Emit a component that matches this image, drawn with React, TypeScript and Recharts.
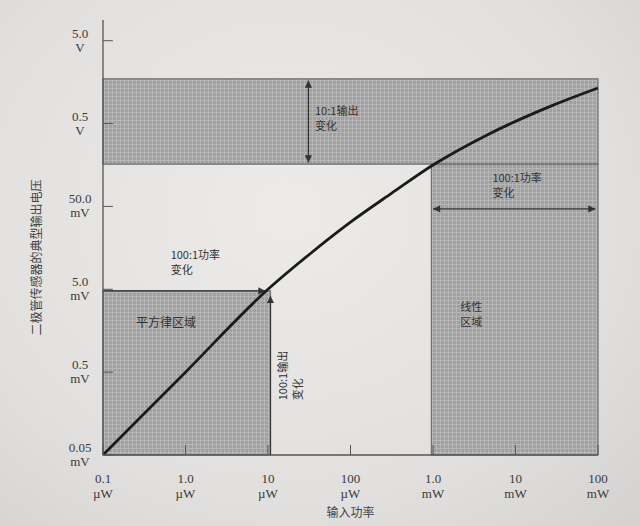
import { LineChart, Line, XAxis, YAxis, ReferenceArea, ReferenceLine, ReferenceDot, Label } from "recharts";

// log10 of input power (µW) and log10 of output voltage (mV)
const curveX = [-1, 0, 1, 1.5, 2, 2.5, 3, 3.65, 4.45, 5];
const curveY = [-1.3, -0.3, 0.7, 1.12, 1.51, 1.86, 2.2, 2.56, 2.92, 3.13];

const xTicks = [-1, 0, 1, 2, 3, 4, 5];
const xTickTop = ["0.1", "1.0", "10", "100", "1.0", "10", "100"];
const xTickUnit = ["µW", "µW", "µW", "µW", "mW", "mW", "mW"];

const yTicks = [-1.3, -0.3, 0.7, 1.7, 2.7, 3.7];
const yTickTop = ["0.05", "0.5", "5.0", "50.0", "0.5", "5.0"];
const yTickUnit = ["mV", "mV", "mV", "mV", "V", "V"];

// shaded regions [x1, x2, y1, y2]
const topBand = [-1, 5, 2.21, 3.24];
const linearBand = [2.98, 5, -1.3, 2.21];
const squareBox = [-1, 1.03, -1.3, 0.68];

const curve = curveX.map((x, i) => ({ x, y: curveY[i] }));

const SERIF = "'Liberation Serif', 'DejaVu Serif', serif";
const CJK = "'Noto Sans CJK SC', sans-serif";
const INK = "#3a3a3a";

function XTick({ x, y, index }: any) {
  return (
    <text x={x} y={y} textAnchor="middle" fontFamily={SERIF} fontSize={13} fill={INK}>
      <tspan x={x} dy={28}>{xTickTop[index]}</tspan>
      <tspan x={x} dy={15}>{xTickUnit[index]}</tspan>
    </text>
  );
}

function YTick({ x, y, index }: any) {
  return (
    <text x={x - 23} y={y} textAnchor="middle" fontFamily={SERIF} fontSize={13} fill={INK}>
      <tspan x={x - 23} dy={-3}>{yTickTop[index]}</tspan>
      <tspan x={x - 23} dy={14}>{yTickUnit[index]}</tspan>
    </text>
  );
}

function Note({ viewBox, lines, size = 11 }: any) {
  const { x, y } = viewBox;
  return (
    <text x={x} y={y} fontFamily={CJK} fontSize={size} fill="#333">
      {lines.map((l: string, i: number) => (
        <tspan key={i} x={x} dy={i === 0 ? 0 : size + 4}>{l}</tspan>
      ))}
    </text>
  );
}

function VNote({ viewBox, lines }: any) {
  const { x, y } = viewBox;
  return (
    <g transform={`rotate(-90, ${x}, ${y})`}>
      <text x={x} y={y} fontFamily={CJK} fontSize={11} fill="#333">
        {lines.map((l: string, i: number) => (
          <tspan key={i} x={x} dy={i === 0 ? 0 : 15}>{l}</tspan>
        ))}
      </text>
    </g>
  );
}

function YTitle({ viewBox }: any) {
  const cx = 35;
  const cy = viewBox.y + viewBox.height / 2 + 20;
  return (
    <text x={cx} y={cy} transform={`rotate(-90, ${cx}, ${cy})`} textAnchor="middle" dominantBaseline="central"
      fontFamily={CJK} fontSize={12} fill="#444">
      二极管传感器的典型输出电压
    </text>
  );
}

export default function App() {
  const area = (r: number[], key: string) => (
    <ReferenceArea key={key} x1={r[0]} x2={r[1]} y1={r[2]} y2={r[3]} fill="url(#grid)" fillOpacity={1}
      stroke="#6f6f6f" strokeWidth={1.2} ifOverflow="visible" />
  );
  const arrow = { stroke: "#333", strokeWidth: 1.2, markerEnd: "url(#arr)" } as any;
  return (
    <div style={{ position: "absolute", left: 0, top: 0, width: 640, height: 526,
      background: "radial-gradient(ellipse at 45% 40%, #ecebe9 0%, #e1e0de 65%, #d3d2d0 100%)" }}>
      <LineChart width={640} height={526} data={curve} margin={{ top: 20, right: 42, bottom: 6, left: 43 }}>
        <defs>
          <pattern id="grid" width="4" height="4" patternUnits="userSpaceOnUse">
            <rect width="4" height="4" fill="#a0a0a0" />
            <path d="M0 0.5H4M0.5 0V4" stroke="#b6b6b6" strokeWidth="1" />
          </pattern>
          <marker id="arr" viewBox="0 0 10 10" refX="10" refY="5" markerWidth="7" markerHeight="6"
            orient="auto-start-reverse">
            <path d="M0,0 L10,5 L0,10 z" fill="#333" />
          </marker>
        </defs>
        <XAxis dataKey="x" type="number" domain={[-1, 5]} ticks={xTicks} tick={<XTick />} tickSize={0} tickMargin={0}
          interval={0} axisLine={{ stroke: "#555", strokeWidth: 1.3 }} height={65}>
          <Label value="输入功率" position="insideBottom" offset={3} fontFamily={CJK} fontSize={12} fill="#444" />
        </XAxis>
        <YAxis type="number" domain={[-1.3, 3.95]} ticks={yTicks} tick={<YTick />} tickSize={0} tickMargin={0}
          interval={0} axisLine={{ stroke: "#555", strokeWidth: 1.3 }} width={60} allowDataOverflow>
          <Label content={<YTitle />} />
        </YAxis>
        {area(topBand, "top")}
        {area(linearBand, "lin")}
        {area(squareBox, "sq")}
        {yTicks.map((t) => (
          <ReferenceLine key={"yt" + t} segment={[{ x: -1, y: t }, { x: -0.88, y: t }]} stroke="#555" strokeWidth={1} />
        ))}
        {xTicks.map((t) => (
          <ReferenceLine key={"xt" + t} segment={[{ x: t, y: -1.3 }, { x: t, y: -1.18 }]} stroke="#555" strokeWidth={1} />
        ))}
        <ReferenceLine segment={[{ x: 1.49, y: 2.23 }, { x: 1.49, y: 3.22 }]} {...arrow} markerStart="url(#arr)" />
        <ReferenceLine segment={[{ x: 3.0, y: 1.67 }, { x: 4.97, y: 1.67 }]} {...arrow} markerStart="url(#arr)" />
        <ReferenceLine segment={[{ x: -1, y: 0.68 }, { x: 0.97, y: 0.68 }]} {...arrow} />
        <ReferenceLine segment={[{ x: 1.03, y: -1.3 }, { x: 1.03, y: 0.62 }]} {...arrow} />
        <Line dataKey="y" type="monotone" stroke="#1b1b1b" strokeWidth={2.8} dot={false} isAnimationActive={false} />
        <ReferenceDot x={1.57} y={2.8} r={0} fill="none" stroke="none" label={<Note lines={["10:1输出", "变化"]} />} />
        <ReferenceDot x={3.72} y={2.0} r={0} fill="none" stroke="none" label={<Note lines={["100:1功率", "变化"]} />} />
        <ReferenceDot x={-0.18} y={1.06} r={0} fill="none" stroke="none" label={<Note lines={["100:1功率", "变化"]} />} />
        <ReferenceDot x={-0.6} y={0.25} r={0} fill="none" stroke="none" label={<Note lines={["平方律区域"]} size={12} />} />
        <ReferenceDot x={3.33} y={0.44} r={0} fill="none" stroke="none" label={<Note lines={["线性", "区域"]} />} />
        <ReferenceDot x={1.23} y={-0.64} r={0} fill="none" stroke="none" label={<VNote lines={["100:1输出", "变化"]} />} />
      </LineChart>
    </div>
  );
}
